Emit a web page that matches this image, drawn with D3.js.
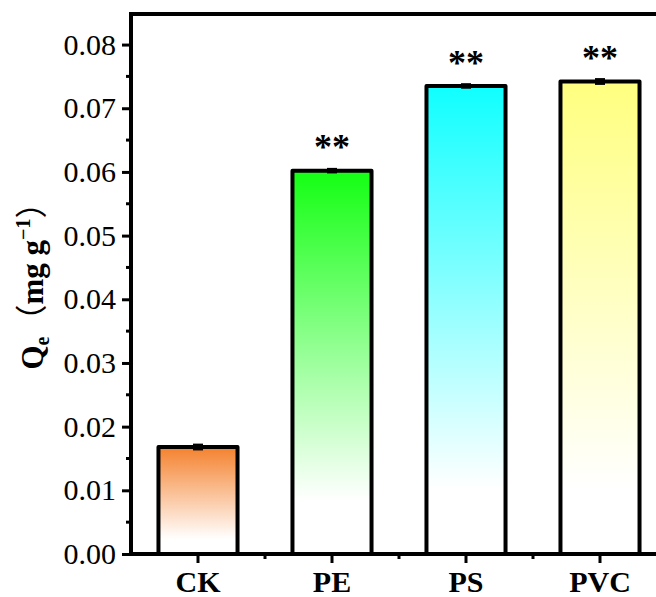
<!DOCTYPE html>
<html>
<head>
<meta charset="utf-8">
<script src="https://cdn.jsdelivr.net/npm/d3@7"></script>
<style>
  body { margin: 0; background: #fff; }
  svg { display: block; }
  text { font-family: "Liberation Serif", "Times New Roman", serif; fill: #000; }
</style>
</head>
<body>
<svg id="chart" width="656" height="597"></svg>
<script>
// data
const categories = ["CK", "PE", "PS", "PVC"];
const values = [0.0168, 0.0602, 0.0735, 0.0742];
const errors = [0.0003, 0.0002, 0.0002, 0.0003];
const marks = ["", "**", "**", "**"];
const topColors = ["#F4822E", "#14FF14", "#10FFFF", "#FFFF80"];
const yTicks = [0, 0.01, 0.02, 0.03, 0.04, 0.05, 0.06, 0.07, 0.08];
const yMinor = [0.005, 0.015, 0.025, 0.035, 0.045, 0.055, 0.065, 0.075];

const W = 656, H = 597;
const pLeft = 131, pRight = 667, pTop = 14, pBottom = 554;

var svg = d3.select("#chart");

var xScale = d3.scaleBand()
               .domain(categories)
               .range([pLeft, pRight])
               .paddingInner(0.41)
               .paddingOuter(0.205);

var yScale = d3.scaleLinear()
               .domain([0, 0.0848])
               .range([pBottom, pTop]);

// gradients, colour at the top fading to white near the bottom
var defs = svg.append("defs");
categories.forEach((c, i) => {
  var g = defs.append("linearGradient")
              .attr("id", "grad" + i)
              .attr("x1", 0).attr("y1", 0)
              .attr("x2", 0).attr("y2", 1);
  g.append("stop").attr("offset", "0%").attr("stop-color", topColors[i]);
  g.append("stop").attr("offset", "86%").attr("stop-color", "#ffffff");
  g.append("stop").attr("offset", "100%").attr("stop-color", "#ffffff");
});

var rows = categories.map((c, i) => ({cat: c, v: values[i], e: errors[i], mark: marks[i], idx: i}));

// bars
svg.append("g").selectAll("rect")
   .data(rows)
   .enter()
   .append("rect")
   .attr("x", d => xScale(d.cat))
   .attr("y", d => yScale(d.v))
   .attr("width", xScale.bandwidth())
   .attr("height", d => yScale(0) - yScale(d.v))
   .attr("fill", d => "url(#grad" + d.idx + ")")
   .attr("stroke", "#000")
   .attr("stroke-width", 4)
   .attr("stroke-linejoin", "round");

// error bars
var eb = svg.append("g").attr("stroke", "#000").attr("stroke-width", 3);
rows.forEach(d => {
  var cx = xScale(d.cat) + xScale.bandwidth() / 2;
  eb.append("line")
    .attr("x1", cx).attr("x2", cx)
    .attr("y1", yScale(d.v - d.e)).attr("y2", yScale(d.v + d.e));
  [d.v - d.e, d.v + d.e].forEach(v => {
    eb.append("line")
      .attr("x1", cx - 5).attr("x2", cx + 5)
      .attr("y1", yScale(v)).attr("y2", yScale(v));
  });
});

// significance marks
svg.append("g").selectAll("text")
   .data(rows.filter(d => d.mark !== ""))
   .enter()
   .append("text")
   .attr("x", d => xScale(d.cat) + xScale.bandwidth() / 2)
   .attr("y", d => yScale(d.v + d.e) - 10)
   .attr("text-anchor", "middle")
   .style("font-size", "36px")
   .style("font-weight", "bold")
   .text(d => d.mark);

// frame: left, bottom, top
var frame = svg.append("g").attr("stroke", "#000").attr("stroke-width", 4).attr("fill", "none");
frame.append("line").attr("x1", pLeft).attr("x2", pLeft).attr("y1", pTop - 2).attr("y2", pBottom + 2);
frame.append("line").attr("x1", pLeft - 2).attr("x2", W).attr("y1", pBottom).attr("y2", pBottom);
frame.append("line").attr("x1", pLeft - 2).attr("x2", W).attr("y1", pTop).attr("y2", pTop);

// y axis
var yAxis = d3.axisLeft(yScale)
              .tickValues(yTicks)
              .tickFormat(d3.format(".2f"))
              .tickSize(9)
              .tickPadding(6);

svg.append("g")
   .attr("transform", "translate(" + pLeft + ",0)")
   .call(yAxis)
   .call(g => g.select(".domain").remove())
   .call(g => g.selectAll(".tick line").attr("stroke", "#000").attr("stroke-width", 3))
   .call(g => g.selectAll(".tick text")
      .style("font-family", "'Liberation Serif', serif")
      .style("font-size", "30px")
      .attr("fill", "#000"));

svg.append("g").selectAll("line")
   .data(yMinor)
   .enter()
   .append("line")
   .attr("x1", pLeft - 5).attr("x2", pLeft)
   .attr("y1", d => yScale(d)).attr("y2", d => yScale(d))
   .attr("stroke", "#000").attr("stroke-width", 3);

// x axis
var xTicks = svg.append("g").attr("stroke", "#000").attr("stroke-width", 3);
categories.forEach((c, i) => {
  var cx = xScale(c) + xScale.bandwidth() / 2;
  xTicks.append("line").attr("x1", cx).attr("x2", cx).attr("y1", pBottom).attr("y2", pBottom + 9);
  if (i > 0) {
    var mx = cx - xScale.step() / 2;
    xTicks.append("line").attr("x1", mx).attr("x2", mx).attr("y1", pBottom).attr("y2", pBottom + 5);
  }
});

svg.append("g").selectAll("text")
   .data(categories)
   .enter()
   .append("text")
   .attr("x", d => xScale(d) + xScale.bandwidth() / 2)
   .attr("y", 592)
   .attr("text-anchor", "middle")
   .style("font-size", "30px")
   .style("font-weight", "bold")
   .text(d => d);

// y axis title
var yt = svg.append("text")
            .attr("transform", "translate(43,278) rotate(-90)")
            .attr("text-anchor", "middle")
            .style("font-size", "31px")
            .style("font-weight", "bold");
yt.append("tspan").text("Q");
yt.append("tspan").attr("dy", 6).style("font-size", "20px").text("e");
yt.append("tspan").attr("dy", -6)
  .style("font-weight", "normal")
  .style("font-family", "'Noto Sans CJK SC', sans-serif")
  .style("font-size", "32px")
  .text("（");
yt.append("tspan").text("mg g");
yt.append("tspan").attr("dy", -13).style("font-size", "20px").text("−1");
yt.append("tspan").attr("dy", 13)
  .style("font-weight", "normal")
  .style("font-family", "'Noto Sans CJK SC', sans-serif")
  .style("font-size", "32px")
  .text("）");
</script>
</body>
</html>
